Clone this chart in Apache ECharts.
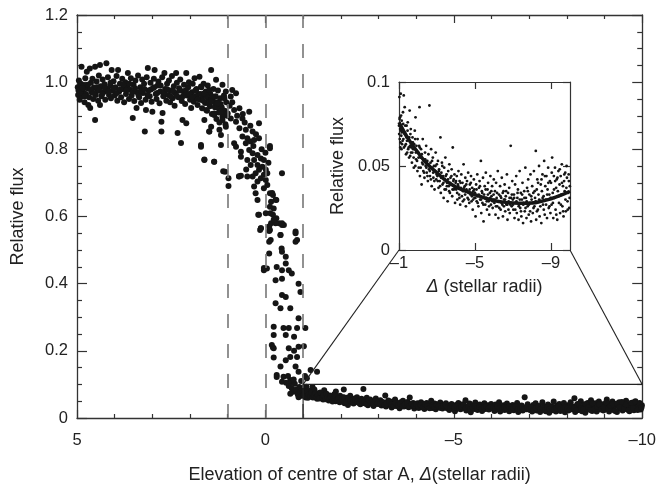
<!DOCTYPE html>
<html>
<head>
<meta charset="utf-8">
<script src="https://cdn.jsdelivr.net/npm/echarts@6/dist/echarts.min.js"></script>
<style>html,body{margin:0;padding:0;background:#fff}#c{width:659px;height:489px}</style>
</head>
<body>
<div id="c"></div>
<script>
// Out-of-transit plateau (x = elevation, y = relative flux)
var plateau = [
[4.98,0.985],[4.97,0.962],[4.95,1.005],[4.93,0.948],[4.92,0.978],[4.90,0.995],[4.88,1.046],[4.86,0.958],[4.84,0.972],[4.82,0.990],[4.80,0.940],[4.78,1.012],[4.76,0.965],[4.74,1.031],[4.72,0.982],[4.70,0.932],[4.68,0.955],[4.66,1.041],[4.65,0.923],[4.63,0.998],[4.61,0.970],[4.59,1.010],[4.57,0.950],[4.55,0.984],[4.52,1.046],[4.52,0.887],[4.50,0.962],[4.48,1.002],[4.46,0.975],[4.44,0.945],[4.42,1.020],[4.39,1.051],[4.39,0.932],[4.37,0.988],[4.35,0.958],[4.32,1.008],[4.30,0.970],[4.27,0.994],[4.25,0.948],[4.22,1.056],[4.20,0.980],[4.18,1.015],[4.15,0.962],[4.12,0.990],[4.10,0.952],[4.08,1.036],[4.06,0.975],[4.03,1.003],[4.00,0.960],[3.98,0.985],[3.95,1.018],[3.93,0.945],[3.91,1.036],[3.88,0.972],[3.86,0.995],[3.83,0.955],[3.80,1.010],[3.78,0.980],[3.75,0.940],[3.72,1.000],[3.70,0.965],[3.67,0.988],[3.65,1.027],[3.62,0.950],[3.60,0.978],[3.57,1.012],[3.55,0.960],[3.52,0.893],[3.50,0.992],[3.48,0.944],[3.45,1.005],[3.42,0.923],[3.40,0.970],[3.38,1.020],[3.35,0.955],[3.32,0.985],[3.30,0.938],[3.27,1.008],[3.25,0.968],[3.22,0.995],[3.20,0.853],[3.18,0.948],[3.17,0.917],[3.15,1.015],[3.12,1.042],[3.10,0.975],[3.07,0.958],[3.05,0.998],[3.02,0.942],[3.00,0.912],[2.98,0.983],[2.96,1.010],[2.94,1.036],[2.91,0.965],[2.89,0.950],[2.86,0.990],[2.84,1.002],[2.81,0.937],[2.79,0.972],[2.76,0.853],[2.76,0.882],[2.74,1.015],[2.73,0.908],[2.71,0.958],[2.68,1.027],[2.66,0.980],[2.63,0.945],[2.61,0.995],[2.58,0.962],[2.56,1.005],[2.53,0.940],[2.51,0.975],[2.48,1.018],[2.46,0.952],[2.43,0.988],[2.41,0.930],[2.39,0.968],[2.37,1.027],[2.35,0.998],[2.33,0.849],[2.31,0.955],[2.29,0.982],[2.26,1.008],[2.24,0.819],[2.22,0.944],[2.20,0.887],[2.18,0.973],[2.16,0.992],[2.13,0.935],[2.10,1.027],[2.10,0.878],[2.08,0.960],[2.05,0.985],[2.03,1.000],[2.00,0.948],[1.97,0.923],[1.95,0.970],[1.93,0.995],[1.90,0.942],[1.88,1.012],[1.85,0.958],[1.83,0.980],[1.80,0.932],[1.78,0.965],[1.75,1.016],[1.73,0.948],[1.71,0.813],[1.70,0.985],[1.68,0.922],[1.66,0.960],[1.64,0.995],[1.62,0.768],[1.62,0.887],[1.60,0.938],[1.58,0.972],[1.55,0.915],[1.53,0.990],[1.51,0.950],[1.49,0.853],[1.47,0.928],[1.46,0.965],[1.44,1.036],[1.44,0.867],[1.42,0.905],[1.40,0.945],[1.38,0.980],[1.36,0.763],[1.36,0.902],[1.34,0.925],[1.32,0.958],[1.30,0.890],[1.28,0.940],[1.26,0.975],[1.24,0.910],[1.22,0.880],[1.20,0.952],[1.18,0.813],[1.18,0.843],[1.16,0.925],[1.14,0.897],[1.12,0.735],[1.10,0.960],[1.08,0.915],[1.06,0.875],[1.04,0.940],[1.02,0.900],
[4.96,0.975],[4.91,0.968],[4.85,0.982],[4.79,0.958],[4.71,0.992],[4.64,0.978],[4.56,0.968],[4.47,0.985],[4.41,0.975],[4.33,0.965],[4.26,0.982],[4.17,0.972],[4.11,0.998],[4.02,0.982],[3.94,0.968],[3.85,0.978],[3.77,0.992],[3.69,0.975],[3.61,0.995],[3.53,0.970],[3.46,0.982],[3.37,0.962],[3.29,0.975],[3.21,0.980],[3.13,0.962],[3.04,0.978],[2.95,0.985],[2.87,0.968],[2.78,0.990],[2.69,0.970],[2.60,0.978],[2.52,0.958],[2.44,0.972],[2.36,0.960],[2.27,0.975],[2.19,0.958],[2.11,0.975],[2.02,0.965],[1.94,0.955],[1.86,0.975],[1.79,0.950],[1.72,0.965],[1.65,0.945],[1.57,0.958],[1.50,0.935],[1.43,0.950],[1.35,0.940],[1.27,0.925],[1.19,0.935],[1.11,0.905]
];
// Ingress decline
var decline = [
[1.71,0.987],[1.62,0.967],[1.49,0.977],[1.41,0.957],[1.31,1.007],[1.14,0.992],[1.05,0.972],[0.88,0.977],[0.78,0.967],[0.92,0.957],[1.09,0.952],[1.27,0.937],[1.44,0.942],[1.57,0.917],[1.36,0.907],[1.18,0.912],[1.00,0.907],[0.83,0.917],[0.69,0.922],[0.43,0.912],[0.92,0.892],[1.14,0.887],[0.78,0.882],[0.61,0.892],[1.22,0.858],[1.05,0.867],[0.69,0.863],[0.52,0.858],[0.34,0.853],[0.17,0.878],[0.61,0.838],[0.48,0.833],[0.39,0.823],[0.30,0.828],[0.52,0.818],[0.17,0.833],[0.83,0.818],[0.78,0.808],[0.65,0.793],[0.43,0.798],[0.34,0.788],[0.21,0.783],[-0.12,0.803],[0.65,0.778],[0.48,0.768],[0.30,0.768],[0.12,0.773],[0.04,0.768],[0.39,0.753],[0.21,0.753],[0.08,0.748],[0.17,0.739],[-0.01,0.739],[0.26,0.729],[0.04,0.724],[-0.05,0.729],[0.34,0.719],[0.12,0.714],[0.48,0.719],[0.65,0.721],[0.21,0.704],[-0.01,0.709],[0.30,0.689],[0.04,0.684],[-0.05,0.694],[0.26,0.669],[0.21,0.649],[-0.12,0.669],[-0.20,0.664],[-0.29,0.649],[-0.15,0.644],[-0.12,0.629],[-0.22,0.624],[-0.01,0.610],[-0.20,0.605],[0.17,0.605],[-0.29,0.595],[-0.15,0.580],[-0.36,0.580],[0.12,0.565],[-0.12,0.560],[-0.49,0.575],[-0.40,0.545],[-0.80,0.555],[-0.44,0.729],[1.07,0.733],[0.98,0.714],[0.98,0.691],[1.36,0.763],[1.62,0.770],[0.70,0.719],[1.71,0.808],[1.49,0.853],[-0.12,0.810],[0.19,0.605],[0.14,0.560],[-0.10,0.557],[-0.84,0.530],[0.51,0.740],[0.70,0.720],[0.88,0.940],[0.60,0.905],[0.25,0.845],[0.95,0.930],[0.40,0.870],[0.10,0.800],[0.00,0.790],[-0.08,0.760],[0.55,0.880],[0.75,0.900],[0.32,0.810]
];
// Steep drop to the bottom
var drop = [
[0.12,0.565],[-0.10,0.570],[-0.27,0.580],[-0.44,0.575],[-0.40,0.545],[-0.80,0.550],[-0.80,0.525],[-0.14,0.530],[-0.10,0.490],[-0.44,0.495],[-0.54,0.480],[0.04,0.440],[-0.04,0.445],[-0.30,0.450],[-0.44,0.440],[-0.62,0.440],[-0.70,0.430],[-0.54,0.460],[-0.27,0.410],[-0.44,0.415],[-0.88,0.400],[-0.93,0.375],[-0.44,0.366],[-0.54,0.360],[-0.27,0.342],[-0.40,0.327],[-0.66,0.327],[-0.88,0.297],[-0.22,0.272],[-0.48,0.268],[-0.62,0.268],[-0.84,0.268],[-1.06,0.268],[-0.22,0.247],[-0.54,0.247],[-0.76,0.242],[-0.17,0.217],[-0.22,0.208],[-0.62,0.208],[-0.88,0.212],[-1.02,0.214],[-0.76,0.200],[-0.66,0.182],[-0.84,0.182],[-0.54,0.172],[-0.40,0.153],[-0.80,0.153],[-0.30,0.128],[-0.48,0.123],[-0.44,0.108],[-0.88,0.138],[-0.66,0.113],[-0.70,0.104],[-1.37,0.138],[-0.18,0.670],[-0.27,0.650],[-0.13,0.610],[-0.22,0.590],[-0.44,0.580],[-0.10,0.525],[-0.43,0.505],[-0.20,0.210],[-0.22,0.180],[-0.30,0.122],[0.04,0.447],[-0.62,0.095],[-0.70,0.088],[-0.74,0.078],[-0.78,0.102],[-0.82,0.085],[-0.86,0.070],[-0.90,0.092],[-0.93,0.076],[-0.96,0.066],[-0.98,0.084],[-0.55,0.105],[-0.66,0.072],[-0.88,0.062],[-1.20,0.143],[-1.10,0.118],[-1.05,0.125],[-0.60,0.125],[-0.75,0.115],[-0.95,0.110]
];
// Post-ingress tail (also shown in the inset)
var tail = [
[-1.00,0.074],[-1.02,0.091],[-1.04,0.066],[-1.05,0.079],[-1.07,0.061],[-1.09,0.093],[-1.10,0.071],[-1.12,0.068],[-1.14,0.077],[-1.16,0.063],[-1.18,0.072],[-1.21,0.082],[-1.23,0.066],[-1.25,0.092],[-1.27,0.070],[-1.30,0.085],[-1.32,0.062],[-1.35,0.068],[-1.37,0.057],[-1.40,0.074],[-1.42,0.065],[-1.45,0.071],[-1.48,0.060],[-1.50,0.066],[-1.53,0.055],[-1.56,0.083],[-1.58,0.062],[-1.60,0.069],[-1.63,0.058],[-1.66,0.064],[-1.68,0.052],[-1.71,0.067],[-1.74,0.060],[-1.77,0.055],[-1.80,0.063],[-1.83,0.071],[-1.86,0.050],[-1.87,0.079],[-1.89,0.058],[-1.92,0.062],[-1.95,0.053],[-1.98,0.066],
[-2.01,0.058],[-2.04,0.049],[-2.06,0.062],[-2.08,0.085],[-2.10,0.044],[-2.13,0.055],[-2.16,0.060],[-2.19,0.039],[-2.22,0.052],[-2.25,0.066],[-2.28,0.047],[-2.31,0.054],[-2.34,0.043],[-2.37,0.058],[-2.40,0.050],[-2.43,0.062],[-2.46,0.046],[-2.49,0.053],[-2.52,0.041],[-2.55,0.057],[-2.58,0.048],[-2.60,0.086],[-2.63,0.044],[-2.66,0.052],[-2.69,0.060],[-2.72,0.038],[-2.75,0.049],[-2.78,0.055],[-2.81,0.043],[-2.84,0.050],[-2.87,0.036],[-2.90,0.047],[-2.93,0.058],[-2.96,0.042],[-2.99,0.051],
[-3.02,0.044],[-3.05,0.053],[-3.08,0.037],[-3.11,0.048],[-3.14,0.041],[-3.18,0.067],[-3.20,0.034],[-3.23,0.046],[-3.26,0.052],[-3.29,0.039],[-3.32,0.044],[-3.35,0.031],[-3.38,0.049],[-3.41,0.042],[-3.44,0.055],[-3.47,0.036],[-3.50,0.045],[-3.53,0.040],[-3.56,0.029],[-3.59,0.047],[-3.62,0.038],[-3.65,0.051],[-3.68,0.034],[-3.71,0.043],[-3.74,0.039],[-3.77,0.048],[-3.80,0.032],[-3.83,0.061],[-3.86,0.041],[-3.89,0.036],[-3.92,0.045],[-3.95,0.028],[-3.98,0.040],
[-4.01,0.036],[-4.04,0.044],[-4.07,0.030],[-4.10,0.039],[-4.13,0.047],[-4.16,0.033],[-4.19,0.041],[-4.22,0.027],[-4.25,0.037],[-4.28,0.045],[-4.31,0.032],[-4.34,0.040],[-4.37,0.035],[-4.40,0.051],[-4.43,0.030],[-4.46,0.038],[-4.49,0.043],[-4.52,0.026],[-4.55,0.036],[-4.58,0.041],[-4.61,0.031],[-4.64,0.046],[-4.67,0.034],[-4.70,0.028],[-4.73,0.039],[-4.76,0.033],[-4.79,0.044],[-4.82,0.029],[-4.85,0.037],[-4.88,0.024],[-4.91,0.035],[-4.94,0.042],[-4.97,0.031],
[-5.00,0.034],[-5.03,0.020],[-5.06,0.039],[-5.09,0.029],[-5.12,0.045],[-5.15,0.032],[-5.18,0.026],[-5.21,0.037],[-5.24,0.041],[-5.27,0.030],[-5.31,0.053],[-5.33,0.022],[-5.36,0.035],[-5.39,0.028],[-5.42,0.043],[-5.45,0.017],[-5.48,0.033],[-5.51,0.038],[-5.54,0.027],[-5.57,0.046],[-5.60,0.031],[-5.63,0.024],[-5.66,0.036],[-5.69,0.040],[-5.72,0.029],[-5.75,0.021],[-5.78,0.034],[-5.81,0.044],[-5.84,0.027],[-5.87,0.032],[-5.90,0.038],[-5.93,0.025],[-5.96,0.030],[-5.99,0.042],
[-6.02,0.028],[-6.05,0.035],[-6.08,0.021],[-6.11,0.040],[-6.14,0.031],[-6.17,0.026],[-6.20,0.047],[-6.23,0.019],[-6.26,0.033],[-6.29,0.029],[-6.32,0.038],[-6.35,0.024],[-6.38,0.031],[-6.41,0.043],[-6.44,0.027],[-6.47,0.020],[-6.50,0.035],[-6.53,0.030],[-6.56,0.039],[-6.59,0.023],[-6.62,0.032],[-6.65,0.027],[-6.68,0.045],[-6.71,0.018],[-6.74,0.034],[-6.77,0.029],[-6.80,0.037],[-6.83,0.022],[-6.88,0.062],[-6.90,0.031],[-6.93,0.026],[-6.96,0.041],[-6.99,0.030],
[-7.02,0.024],[-7.05,0.033],[-7.08,0.019],[-7.11,0.039],[-7.14,0.028],[-7.17,0.044],[-7.20,0.022],[-7.23,0.031],[-7.26,0.036],[-7.29,0.018],[-7.32,0.027],[-7.35,0.047],[-7.38,0.025],[-7.41,0.034],[-7.44,0.020],[-7.47,0.030],[-7.50,0.040],[-7.53,0.016],[-7.56,0.028],[-7.59,0.035],[-7.62,0.023],[-7.65,0.049],[-7.68,0.031],[-7.71,0.019],[-7.74,0.037],[-7.77,0.026],[-7.80,0.042],[-7.83,0.021],[-7.86,0.033],[-7.89,0.028],[-7.92,0.045],[-7.95,0.017],[-7.98,0.030],
[-8.01,0.038],[-8.04,0.022],[-8.07,0.034],[-8.10,0.047],[-8.13,0.026],[-8.16,0.031],[-8.20,0.059],[-8.22,0.018],[-8.25,0.036],[-8.28,0.042],[-8.31,0.024],[-8.34,0.033],[-8.37,0.050],[-8.40,0.020],[-8.43,0.029],[-8.46,0.039],[-8.49,0.016],[-8.52,0.035],[-8.55,0.045],[-8.58,0.027],[-8.61,0.032],[-8.64,0.053],[-8.67,0.021],[-8.70,0.038],[-8.73,0.030],[-8.76,0.044],[-8.79,0.019],[-8.82,0.036],[-8.85,0.049],[-8.88,0.025],[-8.91,0.033],[-8.94,0.041],[-8.97,0.022],
[-9.00,0.040],[-9.03,0.027],[-9.06,0.055],[-9.09,0.034],[-9.12,0.019],[-9.15,0.044],[-9.18,0.031],[-9.21,0.049],[-9.24,0.024],[-9.27,0.037],[-9.30,0.042],[-9.33,0.018],[-9.36,0.035],[-9.39,0.047],[-9.42,0.028],[-9.45,0.039],[-9.48,0.022],[-9.51,0.044],[-9.54,0.033],[-9.57,0.051],[-9.60,0.026],[-9.63,0.038],[-9.66,0.020],[-9.69,0.041],[-9.72,0.035],[-9.75,0.046],[-9.78,0.023],[-9.81,0.037],[-9.84,0.043],[-9.87,0.029],[-9.90,0.034],[-9.93,0.045],[-9.96,0.025],[-9.99,0.038],
[-1.01,0.069],[-1.03,0.078],[-1.06,0.072],[-1.08,0.064],[-1.11,0.080],[-1.13,0.060],[-1.15,0.070],[-1.19,0.065],[-1.22,0.075],[-1.26,0.061],[-1.29,0.069],[-1.33,0.074],[-1.36,0.063],[-1.39,0.067],[-1.43,0.058],[-1.46,0.076],[-1.51,0.061],[-1.54,0.067],[-1.59,0.056],[-1.62,0.072],[-1.65,0.061],[-1.70,0.058],[-1.73,0.064],[-1.78,0.049],[-1.82,0.060],[-1.85,0.066],[-1.90,0.054],[-1.94,0.059],[-1.97,0.047],
[-2.03,0.055],[-2.09,0.061],[-2.14,0.049],[-2.20,0.057],[-2.26,0.051],[-2.32,0.046],[-2.38,0.054],[-2.44,0.049],[-2.50,0.044],[-2.56,0.051],[-2.62,0.047],[-2.68,0.042],[-2.74,0.053],[-2.80,0.046],[-2.86,0.041],[-2.92,0.050],[-2.98,0.045],
[-3.04,0.041],[-3.10,0.047],[-3.16,0.038],[-3.22,0.043],[-3.28,0.050],[-3.34,0.040],[-3.40,0.036],[-3.46,0.044],[-3.52,0.038],[-3.58,0.042],[-3.64,0.035],[-3.70,0.040],[-3.76,0.044],[-3.82,0.036],[-3.88,0.042],[-3.94,0.037],
[-4.00,0.041],[-4.06,0.034],[-4.12,0.038],[-4.18,0.031],[-4.24,0.040],[-4.30,0.036],[-4.36,0.029],[-4.42,0.037],[-4.48,0.033],[-4.54,0.039],[-4.60,0.035],[-4.66,0.030],[-4.72,0.036],[-4.78,0.040],[-4.84,0.032],[-4.90,0.030],[-4.96,0.036],
[-5.02,0.031],[-5.08,0.036],[-5.14,0.028],[-5.20,0.033],[-5.26,0.038],[-5.32,0.030],[-5.38,0.034],[-5.44,0.027],[-5.50,0.031],[-5.56,0.036],[-5.62,0.029],[-5.68,0.033],[-5.74,0.026],[-5.80,0.031],[-5.86,0.035],[-5.92,0.029],[-5.98,0.033],
[-6.04,0.030],[-6.10,0.026],[-6.16,0.034],[-6.22,0.029],[-6.28,0.025],[-6.34,0.032],[-6.40,0.028],[-6.46,0.034],[-6.52,0.026],[-6.58,0.030],[-6.64,0.035],[-6.70,0.027],[-6.76,0.024],[-6.82,0.031],[-6.86,0.027],[-6.94,0.033],
[-7.00,0.027],[-7.06,0.031],[-7.12,0.024],[-7.18,0.029],[-7.24,0.034],[-7.30,0.026],[-7.36,0.030],[-7.42,0.023],[-7.48,0.033],[-7.54,0.027],[-7.60,0.031],[-7.66,0.025],[-7.72,0.029],[-7.78,0.035],[-7.84,0.027],[-7.90,0.023],[-7.96,0.032],
[-8.02,0.028],[-8.08,0.025],[-8.14,0.035],[-8.19,0.029],[-8.26,0.023],[-8.32,0.040],[-8.38,0.030],[-8.44,0.026],[-8.50,0.042],[-8.56,0.031],[-8.62,0.024],[-8.68,0.044],[-8.74,0.027],[-8.80,0.033],[-8.86,0.040],[-8.92,0.026],[-8.98,0.031],
[-9.04,0.046],[-9.10,0.028],[-9.16,0.036],[-9.22,0.041],[-9.28,0.021],[-9.34,0.043],[-9.40,0.032],[-9.46,0.048],[-9.52,0.027],[-9.58,0.040],[-9.64,0.023],[-9.70,0.045],[-9.76,0.030],[-9.82,0.050],[-9.88,0.024],[-9.94,0.041],[-9.98,0.031]
];
// Fitted curve in the inset
var fitX = [-1,-1.5,-2,-2.5,-3,-3.5,-4,-4.5,-5,-5.5,-6,-6.5,-7,-7.5,-8,-8.5,-9,-9.5,-10];
var fitY = [0.076,0.066,0.058,0.051,0.046,0.041,0.0375,0.035,0.033,0.031,0.0295,0.0285,0.028,0.0278,0.028,0.029,0.0305,0.0325,0.035];
// Dashed reference elevations
var dashX = [1, 0, -1];
// Zoom window [x from, x to, y top]
var zoomBox = [-1, -10, 0.1];
// Tick values
var insetXTicks = [-1, -5, -9];

var FONT = "'Liberation Sans', Arial, Helvetica, sans-serif";
var TXT = '#222';
var LAB = 16.5, NAME = 18;
function minus(v){ return v < 0 ? '\u2013' + (-v) : String(v); }

var chart = echarts.init(document.getElementById('c'), null, {renderer:'canvas'});

function mainX(pos, show){
  return {type:'value', gridIndex:0, position:pos, min:-10, max:5, interval:5, inverse:true,
    axisLine:{show:true, onZero:false, lineStyle:{color:'#333', width:1.3}},
    axisTick:{show:true, inside:true, length:8, lineStyle:{color:'#333', width:1.2}},
    minorTick:{show:true, splitNumber:5, length:4, lineStyle:{color:'#333', width:1.2}},
    splitLine:{show:false},
    axisLabel:{show:show, margin:14, fontSize:LAB, color:TXT, fontFamily:FONT, formatter:function(v){return minus(v);}},
    name: show ? 'Elevation of centre of star A, {i|\u0394}(stellar radii)' : '',
    nameLocation:'middle', nameGap:48,
    nameTextStyle:{fontSize:NAME, color:TXT, fontFamily:FONT,
      rich:{i:{fontStyle:'italic', fontSize:NAME, color:TXT, fontFamily:FONT}}}
  };
}
function mainY(pos, show){
  return {type:'value', gridIndex:0, position:pos, min:0, max:1.2, interval:0.2,
    axisLine:{show:true, onZero:false, lineStyle:{color:'#333', width:1.3}},
    axisTick:{show:true, inside:true, length:10, lineStyle:{color:'#333', width:1.2}},
    minorTick:{show:true, splitNumber:4, length:5, lineStyle:{color:'#333', width:1.2}},
    splitLine:{show:false},
    axisLabel:{show:show, margin:9, fontSize:LAB, color:TXT, fontFamily:FONT,
      formatter:function(v){return v === 0 ? '0' : v.toFixed(1);}},
    name: show ? 'Relative flux' : '', nameLocation:'middle', nameGap:50, nameRotate:90,
    nameTextStyle:{fontSize:NAME, color:TXT, fontFamily:FONT}
  };
}
function insetX(pos, show){
  return {type:'value', gridIndex:1, position:pos, min:-10, max:-1, inverse:true,
    axisLine:{show:true, onZero:false, lineStyle:{color:'#333', width:1.2}},
    axisTick:{show:true, inside:true, length:7, customValues:insetXTicks, lineStyle:{color:'#333', width:1.2}},
    splitLine:{show:false},
    axisLabel:{show:show, margin:5, fontSize:LAB, color:TXT, fontFamily:FONT, customValues:insetXTicks,
      formatter:function(v){return minus(v);}},
    name: show ? '{i|\u0394} (stellar radii)' : '', nameLocation:'middle', nameGap:28,
    nameTextStyle:{fontSize:NAME, color:TXT, fontFamily:FONT,
      rich:{i:{fontStyle:'italic', fontSize:NAME, color:TXT, fontFamily:FONT}}}
  };
}
function insetY(pos, show){
  return {type:'value', gridIndex:1, position:pos, min:0, max:0.1, interval:0.05,
    axisLine:{show:true, onZero:false, lineStyle:{color:'#333', width:1.2}},
    axisTick:{show:true, inside:true, length:7, lineStyle:{color:'#333', width:1.2}},
    splitLine:{show:false},
    axisLabel:{show:show, margin:9, fontSize:LAB, color:TXT, fontFamily:FONT,
      formatter:function(v){return v === 0 ? '0' : String(+v.toFixed(2));}},
    name: show ? 'Relative flux' : '', nameLocation:'middle', nameGap:52, nameRotate:90,
    nameTextStyle:{fontSize:NAME, color:TXT, fontFamily:FONT}
  };
}

var mainData = plateau.concat(decline, drop, tail);
var fitData = fitX.map(function(x, i){ return [x, fitY[i]]; });

chart.setOption({
  animation:false,
  backgroundColor:'#fff',
  grid:[
    {left:77, top:15, right:14, bottom:71, containLabel:false},
    {left:399, top:82, right:89, bottom:239, containLabel:false, show:true, backgroundColor:'#fff', borderWidth:0}
  ],
  xAxis:[mainX('bottom', true), mainX('top', false), insetX('bottom', true), insetX('top', false)],
  yAxis:[mainY('left', true), mainY('right', false), insetY('left', true), insetY('right', false)],
  series:[
    {type:'line', xAxisIndex:0, yAxisIndex:0, data:[], z:1, silent:true,
      markLine:{silent:true, symbol:'none', label:{show:false},
        lineStyle:{type:[14,16], color:'#777', width:1.6},
        data: dashX.map(function(x){ return {xAxis:x}; })}},
    {type:'scatter', xAxisIndex:0, yAxisIndex:0, data:mainData, symbolSize:6, z:3,
      itemStyle:{color:'#151515', opacity:1}, silent:true},
    {type:'scatter', xAxisIndex:2, yAxisIndex:2, data:tail, symbolSize:2.8, z:3,
      itemStyle:{color:'#151515', opacity:1}, silent:true},
    {type:'line', xAxisIndex:2, yAxisIndex:2, data:fitData, smooth:true, showSymbol:false, z:4,
      lineStyle:{color:'#151515', width:3.5}, silent:true}
  ]
});

var tl = chart.convertToPixel({gridIndex:0}, [zoomBox[0], zoomBox[2]]);
var tr = chart.convertToPixel({gridIndex:0}, [zoomBox[1], zoomBox[2]]);
var bl = chart.convertToPixel({gridIndex:0}, [zoomBox[0], 0]);
var il = chart.convertToPixel({gridIndex:1}, [zoomBox[0], 0]);
var ir = chart.convertToPixel({gridIndex:1}, [zoomBox[1], 0]);
var ls = {stroke:'#222', lineWidth:1.1};
chart.setOption({
  graphic:[
    {type:'line', shape:{x1:tl[0], y1:tl[1], x2:tr[0], y2:tr[1]}, style:ls, z:5, silent:true},
    {type:'line', shape:{x1:bl[0], y1:bl[1], x2:tl[0], y2:tl[1]}, style:ls, z:5, silent:true},
    {type:'line', shape:{x1:tl[0], y1:tl[1], x2:il[0], y2:il[1]}, style:ls, z:5, silent:true},
    {type:'line', shape:{x1:tr[0], y1:tr[1], x2:ir[0], y2:ir[1]}, style:ls, z:5, silent:true}
  ]
});
</script>
</body>
</html>
